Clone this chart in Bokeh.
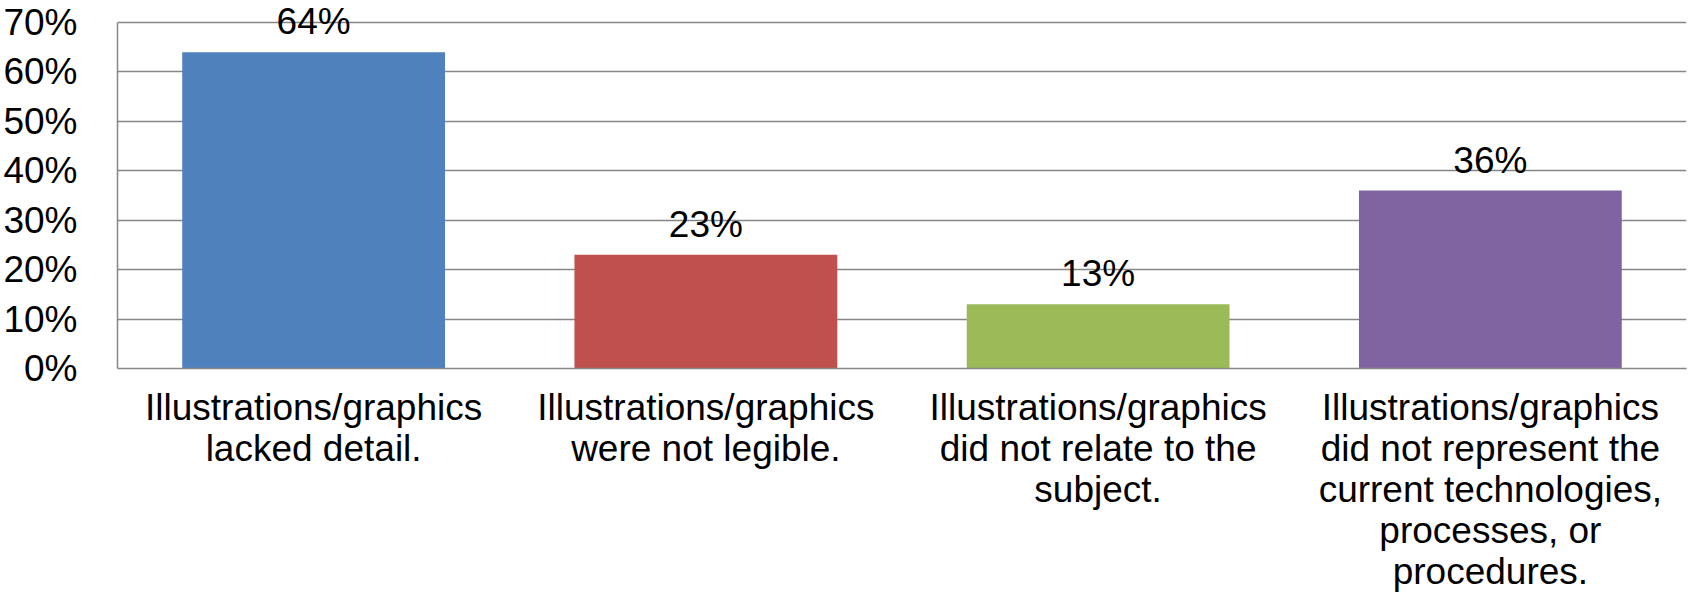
from bokeh.plotting import figure
from bokeh.models import ColumnDataSource, LabelSet, NumeralTickFormatter, FixedTicker
from bokeh.core.properties import value
from bokeh.embed import file_html
from bokeh.resources import INLINE

categories = [
    "Illustrations/graphics\nlacked detail.",
    "Illustrations/graphics\nwere not legible.",
    "Illustrations/graphics\ndid not relate to the\nsubject.",
    "Illustrations/graphics\ndid not represent the\ncurrent technologies,\nprocesses, or\nprocedures.",
]
values = [0.64, 0.23, 0.13, 0.36]
value_labels = ["64%", "23%", "13%", "36%"]
colors = ["#4F81BD", "#C0504D", "#9BBB59", "#8064A2"]
y_ticks = [0.0, 0.1, 0.2, 0.3, 0.4, 0.5, 0.6, 0.7]

FONT = "Liberation Sans"
FS = "37px"
GRID = "#868686"

source = ColumnDataSource(dict(cat=categories, val=values, lab=value_labels, col=colors))

p = figure(
    x_range=categories, y_range=(0, 0.7364),
    frame_width=1569, frame_height=364,
    output_backend="svg", toolbar_location=None,
    min_border_left=109, min_border_top=4, min_border_right=1, min_border_bottom=231,
)
p.outline_line_color = None
p.background_fill_color = "white"

p.vbar(x="cat", top="val", width=0.67, color="col", source=source, line_color=None)

labels = LabelSet(x="cat", y="val", text="lab", source=source, text_align="center",
                  text_baseline="alphabetic", y_offset=18, text_font=value(FONT),
                  text_font_size=value(FS), text_color="black")
p.add_layout(labels)

p.xgrid.grid_line_color = None
p.ygrid.grid_line_color = GRID
p.ygrid.grid_line_width = 1.5
p.ygrid.ticker = FixedTicker(ticks=y_ticks)

p.yaxis.ticker = FixedTicker(ticks=y_ticks)
p.yaxis.bounds = (0, 0.7)
p.yaxis.formatter = NumeralTickFormatter(format="0%")
p.yaxis.axis_line_color = GRID
p.yaxis.axis_line_width = 1.5
p.yaxis.major_tick_line_color = None
p.yaxis.minor_tick_line_color = None
p.yaxis.major_label_standoff = 34
p.yaxis.major_label_text_font = FONT
p.yaxis.major_label_text_font_size = FS
p.yaxis.major_label_text_color = "black"

p.xaxis.axis_line_color = GRID
p.xaxis.axis_line_width = 1.5
p.xaxis.major_tick_line_color = None
p.xaxis.minor_tick_line_color = None
p.xaxis.major_label_standoff = 12
p.xaxis.major_label_text_font = FONT
p.xaxis.major_label_text_font_size = FS
p.xaxis.major_label_text_color = "black"
p.xaxis.major_label_text_line_height = 1.0

open("out.html", "w").write(file_html(p, INLINE))
